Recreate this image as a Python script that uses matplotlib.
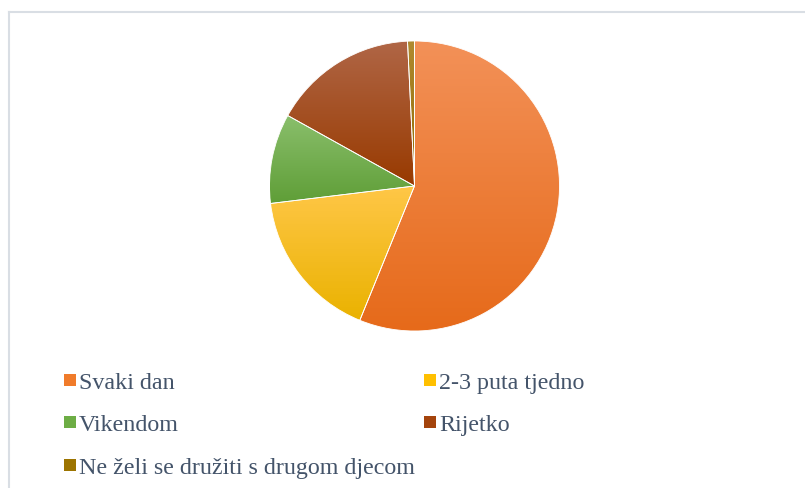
import numpy as np
import matplotlib
matplotlib.use("Agg")
import matplotlib.pyplot as plt
from matplotlib.colors import LinearSegmentedColormap
from matplotlib.patches import Rectangle
from matplotlib.lines import Line2D

labels = ["Svaki dan", "2-3 puta tjedno", "Vikendom", "Rijetko",
          "Ne želi se družiti s drugom djecom"]
counts = [73, 22, 13, 21, 1]

# slice colours: light (top) -> dark (bottom)
tops = ["#F39158", "#FFC748", "#8ABF6C", "#B06646", "#B08A30"]
bottoms = ["#E66A1A", "#EAB200", "#5F9E37", "#983A00", "#8F6A00"]
legend_cols = ["#F07B2B", "#FFC000", "#6DAD45", "#A4440C", "#9C7400"]

W, H = 805, 489
fig = plt.figure(figsize=(W / 100, H / 100), dpi=100)

# pie area: centre (414, 187) px, radius ~145 px
cx, cy, r = 414.5, 187, 145
ax = fig.add_axes([(cx - r) / W, (H - cy - r) / H, 2 * r / W, 2 * r / H])
wedges, _ = ax.pie(counts, startangle=90, counterclock=False, radius=1,
                   wedgeprops=dict(edgecolor="white", linewidth=0.6))

for w, top, bot in zip(wedges, tops, bottoms):
    w.set_facecolor("none")
    ext = w.get_path().get_extents()
    cmap = LinearSegmentedColormap.from_list("g", [bot, top])
    grad = np.linspace(0, 1, 256).reshape(-1, 1)
    im = ax.imshow(grad, cmap=cmap, extent=[ext.x0, ext.x1, ext.y0, ext.y1],
                   origin="lower", aspect="auto", zorder=0.5,
                   interpolation="bilinear")
    im.set_clip_path(w)
    w.set_zorder(1)

ax.set_xlim(-1, 1)
ax.set_ylim(-1, 1)
ax.axis("off")

# legend drawn by hand (Excel-style two-column layout)
text_col = "#44546A"
rows_y = [381, 423, 466]
pos = [(64, rows_y[0]), (424, rows_y[0]), (64, rows_y[1]), (424, rows_y[1]),
       (64, rows_y[2])]
sq = 12
for (x, y), lab, c in zip(pos, labels, legend_cols):
    fig.patches.append(Rectangle((x / W, (H - y - sq / 2) / H), sq / W, sq / H,
                                 transform=fig.transFigure, facecolor=c,
                                 edgecolor="none"))
    fig.text((x + sq + 3) / W, (H - y) / H, lab, fontsize=17.3,
             family="Liberation Serif", color=text_col,
             va="center_baseline")

# chart area border (top and left visible)
bc = "#D9DEE4"
fig.add_artist(Line2D([8.5 / W, 1], [(H - 12.5) / H, (H - 12.5) / H],
                      transform=fig.transFigure, color=bc, lw=1.5))
fig.add_artist(Line2D([8.5 / W, 8.5 / W], [0, (H - 12.5) / H],
                      transform=fig.transFigure, color=bc, lw=1.5))

fig.savefig("out.png", dpi=100)
